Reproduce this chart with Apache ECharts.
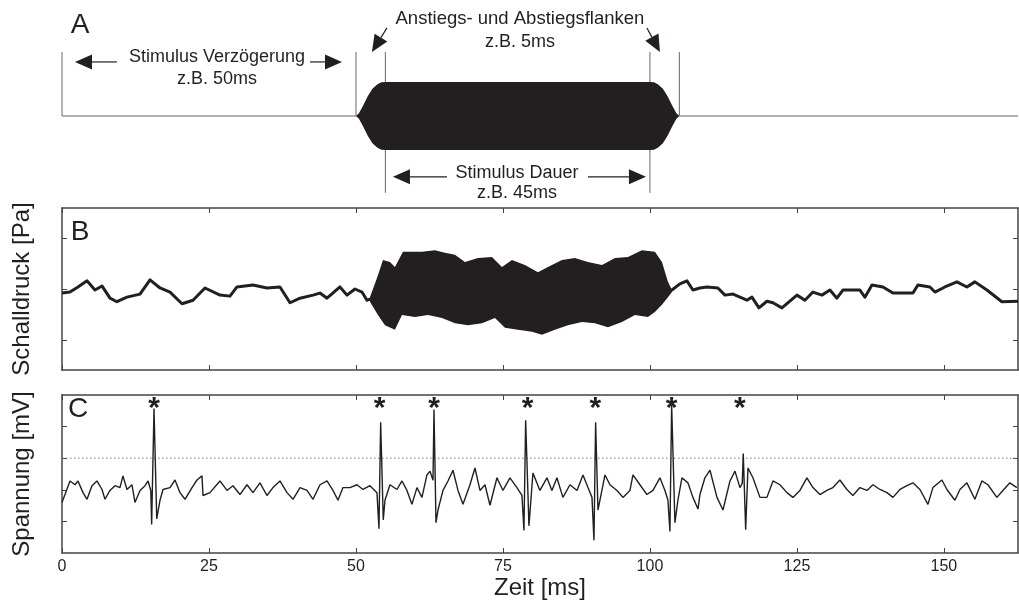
<!DOCTYPE html>
<html><head><meta charset="utf-8">
<script src="https://cdn.jsdelivr.net/npm/echarts@6/dist/echarts.min.js"></script>
<style>html,body{margin:0;padding:0;background:#fff}#c{width:1019px;height:601px}</style>
</head><body><div id="c"></div>
<script>
// ---------- DATA ----------
const xTicks = [0, 25, 50, 75, 100, 125, 150];
const pressureTicks = [-1, 0, 1];
const voltageTicks = [1, 2, 3, 4];

// Panel A: stimulus schematic (ms, relative amplitude)
const stimBoundaryTimes = [0, 50, 55, 100, 105];
const envTimes = [50, 50.5, 51.2, 52, 52.8, 53.6, 54.3, 55, 100, 100.7, 101.4, 102.2, 103, 103.8, 104.5, 105];
const envAmps  = [0, 0.08, 0.3, 0.58, 0.8, 0.93, 0.99, 1, 1, 0.99, 0.93, 0.8, 0.58, 0.3, 0.08, 0];
const annotationTexts = ['Stimulus Verzögerung', 'z.B. 50ms', 'Anstiegs- und Abstiegsflanken', 'z.B. 5ms', 'Stimulus Dauer', 'z.B. 45ms'];

// Panel B: sound pressure trace [ms, value]
const pressureTrace = [
[0,-0.08],[1.36,-0.06],[2.72,0.04],[4.25,0.16],[5.61,-0.02],[6.8,0.06],[8.16,-0.18],[9.35,-0.25],[11.05,-0.16],[13.26,-0.1],[14.97,0.18],[16.67,0.02],[18.37,-0.06],[20.41,-0.29],[22.28,-0.22],[24.32,0.02],[26.87,-0.12],[28.57,-0.14],[29.76,0.04],[32.48,0.08],[34.86,0.02],[37.07,0.04],[38.78,-0.27],[40.48,-0.18],[42.69,-0.12],[43.88,-0.08],[45.07,-0.18],[47.28,0.04],[48.47,-0.12],[49.83,0],[51.02,-0.06],[51.87,-0.22],[52.38,-0.2],
[103.74,-0.02],[105.1,0.1],[106.29,0.16],[107.31,-0.02],[108.5,0.02],[109.69,0.04],[111.56,0.02],[112.76,-0.12],[114.12,-0.1],[116.5,-0.22],[117.35,-0.16],[118.54,-0.37],[119.9,-0.24],[120.92,-0.27],[122.45,-0.37],[125,-0.12],[126.36,-0.22],[127.72,-0.06],[129.25,-0.12],[130.61,-0.02],[131.8,-0.18],[132.82,-0.02],[135.71,-0.02],[136.56,-0.16],[137.76,0.08],[139.63,0.04],[141.33,-0.08],[144.73,-0.08],[145.58,0.08],[147.62,0.04],[148.47,-0.06],[150.17,0.04],[152.21,0.14],[153.91,0.04],[155.27,0.14],[157.31,-0.02],[159.86,-0.25],[162.6,-0.24]
];
const burstUpper = [
[52.38,-0.16],[53.74,0.27],[54.59,0.57],[55.78,0.53],[56.63,0.43],[57.99,0.73],[61.22,0.73],[63.43,0.76],[65.14,0.71],[66.84,0.67],[68.54,0.53],[70.75,0.61],[73.13,0.63],[74.83,0.43],[76.53,0.57],[78.74,0.47],[80.95,0.33],[82.65,0.43],[85.03,0.57],[87.24,0.61],[89.46,0.53],[91.84,0.47],[94.05,0.61],[96.26,0.63],[98.64,0.76],[100.85,0.73],[102.04,0.53],[103.06,0.14],[103.74,-0.02]
];
const burstLower = [
[52.38,-0.25],[53.74,-0.51],[54.93,-0.71],[56.63,-0.8],[57.82,-0.51],[60.03,-0.55],[62.24,-0.51],[64.63,-0.57],[66.84,-0.67],[69.05,-0.71],[71.43,-0.67],[73.64,-0.57],[75.34,-0.76],[77.55,-0.8],[79.93,-0.84],[81.63,-0.9],[83.84,-0.8],[86.05,-0.71],[88.44,-0.65],[90.65,-0.67],[92.86,-0.75],[95.24,-0.65],[97.45,-0.51],[99.66,-0.55],[100.85,-0.45],[102.04,-0.31],[103.06,-0.16],[103.74,-0.06]
];

// Panel C: voltage trace [ms, value]
const voltageTrace = [
[0,1.6],[0.51,1.85],[1.36,2.28],[2.21,2.16],[2.72,2.28],[3.57,1.91],[4.25,1.7],[5.1,2.13],[5.95,2.28],[6.8,2.01],[7.31,1.7],[8.16,1.98],[9.01,2.13],[9.86,2.07],[10.37,2.44],[11.05,2.01],[11.9,2.16],[12.41,1.6],[13.27,1.98],[14.12,2.13],[14.63,2.28],[15.1,1.98],[15.25,0.9],[15.65,4.57],[16.11,1.08],[16.67,1.67],[17.18,2.01],[18.37,2.07],[19.22,2.31],[20.07,1.91],[20.92,1.7],[22.11,2.07],[22.96,2.31],[23.81,2.44],[23.98,1.82],[25.17,1.91],[26.87,2.28],[28.06,1.98],[29.08,2.13],[30.27,1.85],[31.46,2.16],[32.48,1.91],[33.67,2.22],[34.86,1.82],[35.88,2.07],[37.07,2.28],[38.27,1.91],[39.29,1.7],[40.48,2.07],[41.67,1.98],[42.69,1.7],[43.88,2.16],[45.07,2.28],[46.09,1.98],[46.94,1.67],[47.79,2.07],[48.98,2.07],[50.17,2.16],[51.19,2.01],[52.38,2.13],[53.57,1.91],[53.91,0.77],[54.2,4.14],[54.64,1.05],[54.93,1.67],[55.78,2.16],[56.97,2.01],[57.82,2.28],[58.67,1.98],[59.52,1.54],[60.37,2.07],[61.22,1.76],[62.07,2.47],[62.59,2.59],[63.1,2.3],[63.27,4.54],[63.61,0.96],[63.95,1.36],[64.8,1.98],[65.65,2.28],[66.5,2.62],[67.35,1.98],[68.2,1.54],[69.39,2.16],[70.24,2.69],[71.09,1.98],[71.94,2.16],[72.79,1.51],[73.98,2.38],[75,1.98],[76.19,2.38],[77.38,2.07],[78.23,1.82],[78.57,0.71],[78.86,4.2],[79.42,0.86],[80.1,2.53],[81.29,1.98],[82.48,2.38],[83.33,1.98],[84.18,2.38],[85.2,1.76],[86.4,2.16],[87.59,1.98],[88.61,2.47],[89.46,2.07],[90.14,1.76],[90.48,0.4],[90.76,4.14],[91.16,1.36],[92.35,2.47],[93.2,2.16],[94.39,1.98],[95.41,1.76],[96.6,1.98],[97.11,2.47],[98.3,2.16],[99.49,1.85],[100.51,1.98],[101.7,2.38],[102.55,1.98],[103.06,1.67],[103.4,0.68],[103.69,4.69],[104.25,0.96],[104.76,1.67],[105.44,2.38],[106.46,2.22],[107.31,1.76],[108.17,1.39],[108.5,1.85],[109.35,2.38],[110.21,2.62],[111.4,1.76],[112.42,1.36],[113.61,2.28],[114.46,2.59],[115.31,2.07],[115.7,2.2],[115.87,3.15],[116.28,0.74],[116.67,2.69],[117.52,2.38],[118.71,1.76],[119.9,1.76],[120.92,2.28],[122.11,2.16],[123.3,1.91],[124.32,1.76],[125.51,1.98],[126.7,2.38],[127.72,2.07],[128.91,1.85],[130.1,1.98],[131.12,2.07],[132.31,2.31],[133.5,2.01],[134.52,1.82],[135.71,2.07],[136.91,1.98],[137.93,2.16],[139.12,2.01],[140.31,1.91],[141.33,1.76],[142.52,2.01],[143.71,2.13],[144.73,2.22],[145.92,2.01],[147.28,1.54],[148.13,2.07],[149.66,2.31],[150.51,2.01],[151.87,1.67],[152.72,2.01],[153.91,2.22],[155.27,1.7],[156.46,2.28],[157.48,2.16],[159.01,1.76],[160.03,1.98],[161.22,2.22],[162.41,2.07]
];
const asteriskTimes = [15.65, 54.0, 63.3, 79.2, 90.7, 103.7, 115.3];
const thresholdLevel = 3;

// ---------- LAYOUT / STYLE ----------
const xMax = 162.6;
const FONT = '"Liberation Sans", Arial, Helvetica, sans-serif';
const INK = '#231f20';
const AXIS = '#444';
const PLOT_LEFT = 62, PLOT_WIDTH = 956;
const annot = {
  boundaryTop: 1.88, boundaryBottom: [0, 0, -2.26, -2.26, 0],
  arrows: [
    [[9.35,1.59],[2.21,1.59]], [[42.18,1.59],[47.62,1.59]],
    [[65.48,-1.79],[56.29,-1.79]], [[89.46,-1.79],[99.32,-1.79]],
    [[55.27,2.59],[52.72,1.88]], [[99.49,2.59],[101.7,1.88]]
  ],
  textPos: [[26.36,1.74],[26.36,1.09],[77.89,2.85],[77.89,2.18],[77.38,-1.68],[77.38,-2.26]],
  textSize: [18, 18, 18.5, 18, 18, 18],
  asteriskLevel: 4.55
};

function arrowEls(api, from, to) {
  const p0 = api.coord(from), p1 = api.coord(to);
  const dx = p1[0]-p0[0], dy = p1[1]-p0[1], len = Math.hypot(dx, dy);
  const ux = dx/len, uy = dy/len, L = 17, W = 7.5;
  const bx = p1[0]-ux*L, by = p1[1]-uy*L;
  return [
    {type:'line', shape:{x1:p0[0], y1:p0[1], x2:bx, y2:by}, style:{stroke:INK, lineWidth:1.2}},
    {type:'polygon', shape:{points:[[p1[0],p1[1]],[bx-uy*W, by+ux*W],[bx+uy*W, by-ux*W]]}, style:{fill:INK}}
  ];
}

function boxX(gridIndex, pos, labels) {
  return {gridIndex, type:'value', min:0, max:xMax, position:pos,
    axisLine:{show:true, onZero:false, lineStyle:{color:AXIS, width:1.5}},
    axisTick:{show:true, inside:true, length:5, customValues:xTicks, lineStyle:{color:AXIS, width:1}},
    axisLabel:{show:labels, customValues:xTicks, fontSize:16, color:INK, fontFamily:FONT, margin:6},
    splitLine:{show:false}};
}
function boxY(gridIndex, pos, min, max, ticks, name) {
  const a = {gridIndex, type:'value', min, max, position:pos,
    axisLine:{show:true, onZero:false, lineStyle:{color:AXIS, width:1.5}},
    axisTick:{show:true, inside:true, length:5, customValues:ticks, lineStyle:{color:AXIS, width:1}},
    axisLabel:{show:false}, splitLine:{show:false}};
  if (name) Object.assign(a, {name, nameLocation:'middle', nameGap:28,
    nameTextStyle:{fontSize:24, color:INK, fontFamily:FONT}});
  return a;
}

const chart = echarts.init(document.getElementById('c'), null, {renderer:'canvas'});
chart.setOption({
  animation:false,
  backgroundColor:'#fff',
  grid:[
    {left:PLOT_LEFT, width:PLOT_WIDTH, top:14, height:204},
    {left:PLOT_LEFT, width:PLOT_WIDTH, top:208, height:162},
    {left:PLOT_LEFT, width:PLOT_WIDTH, top:395, height:162}
  ],
  xAxis:[
    {gridIndex:0, type:'value', min:0, max:xMax, show:false},
    boxX(1,'bottom',false), boxX(1,'top',false),
    Object.assign(boxX(2,'bottom',true), {name:'Zeit [ms]', nameLocation:'middle', nameGap:23, nameMoveOverlap:false,
      nameTextStyle:{fontSize:24, color:INK, fontFamily:FONT, verticalAlign:'top'}}),
    boxX(2,'top',false)
  ],
  yAxis:[
    {gridIndex:0, type:'value', min:-3, max:3, show:false},
    boxY(1,'left',-1.59,1.59,pressureTicks,'Schalldruck [Pa]'), boxY(1,'right',-1.59,1.59,pressureTicks),
    boxY(2,'left',0,5,voltageTicks,'Spannung [mV]'), boxY(2,'right',0,5,voltageTicks)
  ],
  graphic:[
    {type:'text', x:80, y:25, style:{text:'A', font:'28px '+FONT, fill:INK, align:'center', verticalAlign:'middle'}},
    {type:'text', x:80, y:232, style:{text:'B', font:'28px '+FONT, fill:INK, align:'center', verticalAlign:'middle'}},
    {type:'text', x:78, y:409, style:{text:'C', font:'28px '+FONT, fill:INK, align:'center', verticalAlign:'middle'}}
  ],
  series:[
    // A baseline: before and after the stimulus
    {type:'line', xAxisIndex:0, yAxisIndex:0, z:1,
      data:[[0,0],[stimBoundaryTimes[1],0],'-',[stimBoundaryTimes[4],0],[xMax,0]],
      connectNulls:false, symbol:'none', silent:true, lineStyle:{color:'#666', width:1}},
    // A envelope
    {type:'custom', xAxisIndex:0, yAxisIndex:0, data:[[0,0]], silent:true, z:5,
      renderItem:(p, api) => {
        const up = envTimes.map((t,i) => api.coord([t, envAmps[i]]));
        const lo = envTimes.map((t,i) => api.coord([t, -envAmps[i]])).reverse();
        return {type:'polygon', shape:{points:up.concat(lo)}, style:{fill:INK}};
      }},
    // A boundary lines + arrows + texts
    {type:'custom', xAxisIndex:0, yAxisIndex:0, data:[[0,0]], silent:true, z:4,
      renderItem:(p, api) => {
        const ch = [];
        stimBoundaryTimes.forEach((t,i) => {
          const a = api.coord([t, annot.boundaryTop]), b = api.coord([t, annot.boundaryBottom[i]]);
          ch.push({type:'line', shape:{x1:a[0], y1:a[1], x2:b[0], y2:b[1]}, style:{stroke:'#666', lineWidth:1}});
        });
        annot.arrows.forEach(ar => ch.push(...arrowEls(api, ar[0], ar[1])));
        annotationTexts.forEach((s,i) => {
          const c = api.coord(annot.textPos[i]);
          ch.push({type:'text', x:c[0], y:c[1], style:{text:s, font:annot.textSize[i]+'px '+FONT, fill:INK, align:'center', verticalAlign:'middle'}});
        });
        return {type:'group', children:ch};
      }},
    // B trace
    {type:'line', xAxisIndex:1, yAxisIndex:1, data:pressureTrace, symbol:'none', silent:true,
      lineStyle:{color:INK, width:3, join:'round'}},
    // B burst
    {type:'custom', xAxisIndex:1, yAxisIndex:1, data:[[0,0]], silent:true, z:3,
      renderItem:(p, api) => {
        const up = burstUpper.map(q => api.coord(q));
        const lo = burstLower.slice().reverse().map(q => api.coord(q));
        return {type:'polygon', shape:{points:up.concat(lo)}, style:{fill:INK}};
      }},
    // C threshold
    {type:'line', xAxisIndex:3, yAxisIndex:3, data:[[0,thresholdLevel],[xMax,thresholdLevel]], symbol:'none', silent:true,
      lineStyle:{color:'#777', width:1, type:[1.5,2.5]}},
    // C trace
    {type:'line', xAxisIndex:3, yAxisIndex:3, data:voltageTrace, symbol:'none', silent:true,
      lineStyle:{color:INK, width:1.4}},
    // C asterisks
    {type:'custom', xAxisIndex:3, yAxisIndex:3, data:asteriskTimes.map(t => [t, annot.asteriskLevel]), silent:true, z:5,
      renderItem:(p, api) => {
        const c = api.coord([api.value(0), api.value(1)]);
        return {type:'text', x:c[0], y:c[1], style:{text:'*', font:'bold 30px '+FONT, fill:INK, align:'center', verticalAlign:'middle'}};
      }}
  ]
});
</script></body></html>
